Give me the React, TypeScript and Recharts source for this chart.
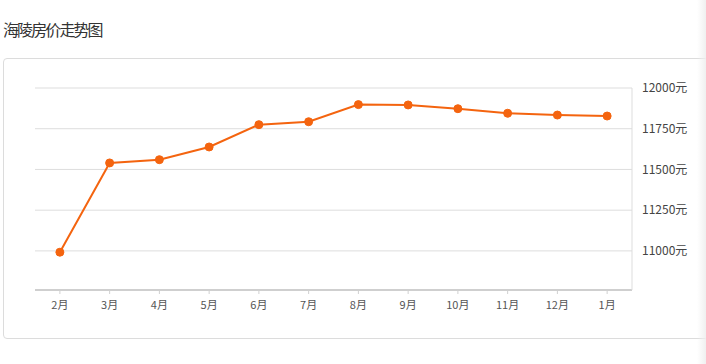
import React from "react";
import { LineChart, Line, XAxis, YAxis, CartesianGrid } from "recharts";

const months = ["2月", "3月", "4月", "5月", "6月", "7月", "8月", "9月", "10月", "11月", "12月", "1月"];
const prices = [10992, 11540, 11560, 11638, 11775, 11793, 11898, 11896, 11873, 11845, 11834, 11828];
const yTicks = [11000, 11250, 11500, 11750, 12000];

const data = months.map((m, i) => ({ month: m, price: prices[i] }));

const ORANGE = "#f4640f";

export default function App() {
  return (
    <div style={{ position: "absolute", left: 0, top: 0, width: 706, height: 364, overflow: "hidden", background: "#fff", fontFamily: "'Noto Sans CJK SC', 'Noto Sans', sans-serif" }}>
      <div style={{ position: "absolute", left: 3, top: 18, fontSize: 16, letterSpacing: -1.9, color: "#333", lineHeight: "22px" }}>
        海陵房价走势图
      </div>
      <div style={{ position: "absolute", left: 3, top: 58, width: 720, height: 279, border: "1px solid #dcdcdc", borderRadius: 4, boxSizing: "content-box" }} />
      <div style={{ position: "absolute", left: 4, top: 58 }}>
        <LineChart width={702} height={280} data={data} margin={{ top: 30, right: 14, bottom: 18, left: 31 }}>
          <CartesianGrid vertical={false} stroke="#dddddd" />
          <XAxis
            dataKey="month"
            scale="band"
            stroke="#cccccc"
            axisLine={{ stroke: "#cfcfcf", strokeWidth: 2 }}
            tickLine={{ stroke: "#d0d0d0" }}
            tickSize={4}
            tickMargin={7}
            height={30}
            tick={{ fill: "#555", fontSize: 11 }}
            interval={0}
          />
          <YAxis
            orientation="right"
            domain={[10760, 12000]}
            ticks={yTicks}
            tickFormatter={(v: number) => `${v}元`}
            axisLine={{ stroke: "#dddddd" }}
            tickLine={false}
            tickSize={0}
            tickMargin={10}
            width={60}
            tick={{ fill: "#444", fontSize: 12, textAnchor: "start" }}
          />
          <Line
            type="linear"
            dataKey="price"
            stroke={ORANGE}
            strokeWidth={2}
            dot={{ r: 4, fill: ORANGE, stroke: ORANGE, strokeWidth: 1 }}
            activeDot={false}
            isAnimationActive={false}
          />
        </LineChart>
      </div>
      <div style={{ position: "absolute", left: 697, top: 0, width: 9, height: 364, background: "linear-gradient(to right, rgba(240,240,240,0), rgba(238,238,238,0.9))" }} />
    </div>
  );
}
